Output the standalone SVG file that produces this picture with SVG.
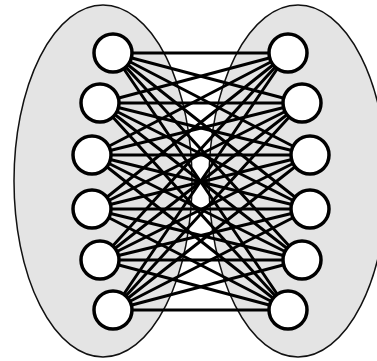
<svg xmlns="http://www.w3.org/2000/svg" width="377" height="361" viewBox="0 0 377 361">
<style>
.part{fill:#e4e4e4;stroke:#111;stroke-width:1.5}
.e{stroke:#000;stroke-width:3;fill:none}
.n{fill:#fff;stroke:#000;stroke-width:3.5}
</style>
<rect width="377" height="361" fill="#fff"/>
<g id="partitions">
<ellipse class="part" cx="103" cy="181" rx="89" ry="176"/>
<ellipse class="part" cx="298" cy="181" rx="89" ry="176"/>
</g>
<g id="edges">
<path class="e" d="M113 53L288 53M113 53L302 103M113 53L310 155M113 53L310 209M113 53L302 260M113 53L288 310"/>
<path class="e" d="M100 103L288 53M100 103L302 103M100 103L310 155M100 103L310 209M100 103L302 260M100 103L288 310"/>
<path class="e" d="M92 155L288 53M92 155L302 103M92 155L310 155M92 155L310 209M92 155L302 260M92 155L288 310"/>
<path class="e" d="M92 209L288 53M92 209L302 103M92 209L310 155M92 209L310 209M92 209L302 260M92 209L288 310"/>
<path class="e" d="M100 260L288 53M100 260L302 103M100 260L310 155M100 260L310 209M100 260L302 260M100 260L288 310"/>
<path class="e" d="M113 310L288 53M113 310L302 103M113 310L310 155M113 310L310 209M113 310L302 260M113 310L288 310"/>
</g>
<g id="L1"><circle class="n" cx="113" cy="53" r="19"/></g>
<g id="L2"><circle class="n" cx="100" cy="103" r="19"/></g>
<g id="L3"><circle class="n" cx="92" cy="155" r="19"/></g>
<g id="L4"><circle class="n" cx="92" cy="209" r="19"/></g>
<g id="L5"><circle class="n" cx="100" cy="260" r="19"/></g>
<g id="L6"><circle class="n" cx="113" cy="310" r="19"/></g>
<g id="R1"><circle class="n" cx="288" cy="53" r="19"/></g>
<g id="R2"><circle class="n" cx="302" cy="103" r="19"/></g>
<g id="R3"><circle class="n" cx="310" cy="155" r="19"/></g>
<g id="R4"><circle class="n" cx="310" cy="209" r="19"/></g>
<g id="R5"><circle class="n" cx="302" cy="260" r="19"/></g>
<g id="R6"><circle class="n" cx="288" cy="310" r="19"/></g>
</svg>
